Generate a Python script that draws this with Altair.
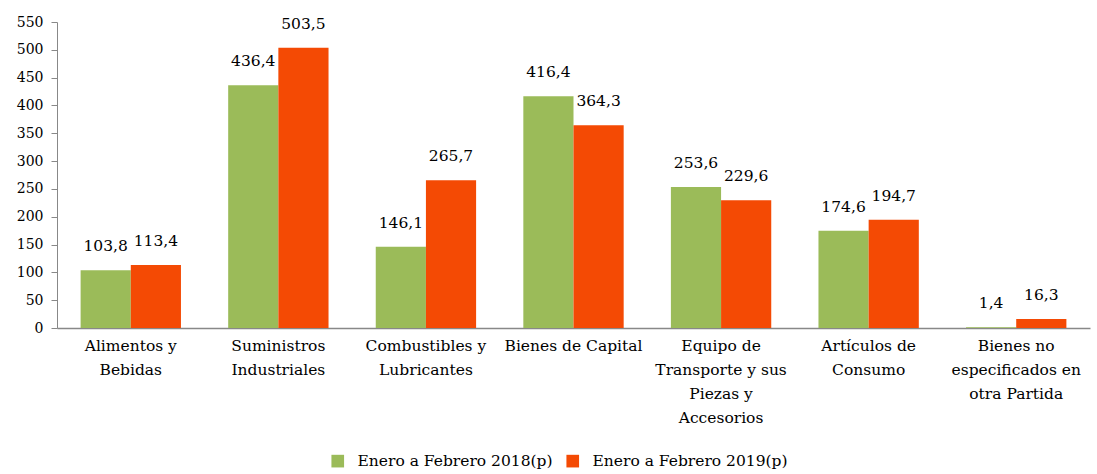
import altair as alt
import pandas as pd

categories = [
    "Alimentos y|Bebidas",
    "Suministros|Industriales",
    "Combustibles y|Lubricantes",
    "Bienes de Capital",
    "Equipo de|Transporte y sus|Piezas y|Accesorios",
    "Artículos de|Consumo",
    "Bienes no|especificados en|otra Partida",
]
series = ["Enero a Febrero 2018(p)", "Enero a Febrero 2019(p)"]
values_2018 = [103.8, 436.4, 146.1, 416.4, 253.6, 174.6, 1.4]
values_2019 = [113.4, 503.5, 265.7, 364.3, 229.6, 194.7, 16.3]
colors = ["#9BBB59", "#F44A04"]

rows = []
for c, a, b in zip(categories, values_2018, values_2019):
    rows.append({"cat": c, "serie": series[0], "v": a, "lbl": f"{a:.1f}".replace(".", ",")})
    rows.append({"cat": c, "serie": series[1], "v": b, "lbl": f"{b:.1f}".replace(".", ",")})
df = pd.DataFrame(rows)

FONT = "DejaVu Serif"

x = alt.X("cat:N", sort=categories, title=None,
          scale=alt.Scale(paddingInner=0.32, paddingOuter=0.16),
          axis=alt.Axis(labelExpr="split(datum.value, '|')", labelAngle=0,
                        labelFont=FONT, labelFontSize=15.5, labelColor="#000000",
                        labelLineHeight=24, labelPadding=10, ticks=False,
                        domainColor="#888888", domainWidth=1.5, labelBaseline="top"))
xo = alt.XOffset("serie:N", sort=series)
y = alt.Y("v:Q", title=None,
          scale=alt.Scale(domain=[0, 550]),
          axis=alt.Axis(values=list(range(0, 551, 50)), grid=False,
                        labelOverlap=False,
                        labelFont=FONT, labelFontSize=14, labelColor="#000000",
                        tickColor="#888888", tickSize=6, domainColor="#888888",
                        labelPadding=8))

base = alt.Chart(df).encode(x=x, xOffset=xo, y=y)

bars = base.mark_bar().encode(
    color=alt.Color("serie:N", sort=series,
                    scale=alt.Scale(domain=series, range=colors),
                    legend=alt.Legend(title=None, orient="none", direction="horizontal",
                                      legendX=273, legendY=431,
                                      symbolType="square", symbolSize=160,
                                      symbolStrokeWidth=0,
                                      labelFont=FONT, labelFontSize=15.5,
                                      labelColor="#000000", columnPadding=12,
                                      labelOffset=12, labelLimit=300)),
)

labels = base.mark_text(font=FONT, fontSize=15.5, color="#000000",
                        baseline="middle", dy=-24).encode(text="lbl:N")

chart = (bars + labels).properties(
    width=1033, height=306,
    padding={"left": 57, "top": 22, "right": 7, "bottom": 146},
    autosize=alt.AutoSizeParams(type="none"),
).configure_view(stroke=None)

chart.save("out.html", embed_options={"renderer": "svg", "actions": False})
